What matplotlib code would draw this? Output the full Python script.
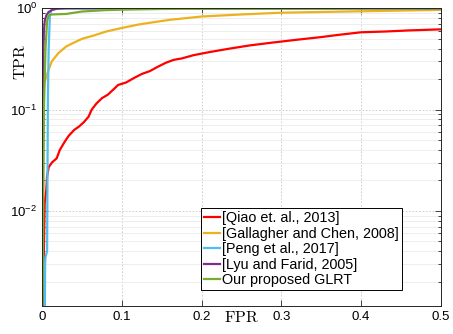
import matplotlib

matplotlib.use("Agg")
import matplotlib.pyplot as plt
from matplotlib.ticker import FixedLocator, FuncFormatter, LogLocator, NullFormatter

# ROC curves
labels = [
    "[Qiao et. al., 2013]",
    "[Gallagher and Chen, 2008]",
    "[Peng et al., 2017]",
    "[Lyu and Farid, 2005]",
    "Our proposed GLRT",
]
colors = ["#ff0000", "#edb120", "#4dbeee", "#7e2f8e", "#77ac30"]

qiao_fpr = [0, 0.003, 0.005, 0.006, 0.008, 0.012, 0.018, 0.022, 0.028, 0.033, 0.040, 0.046,
            0.052, 0.058, 0.062, 0.068, 0.075, 0.082, 0.090, 0.095, 0.105, 0.115,
            0.125, 0.135, 0.145, 0.155, 0.165, 0.175, 0.19, 0.21, 0.235, 0.26, 0.29,
            0.32, 0.35, 0.37, 0.40, 0.43, 0.46, 0.5]
qiao_tpr = [0.0005, 0.012, 0.016, 0.022, 0.027, 0.030, 0.033, 0.040, 0.048, 0.055, 0.063, 0.068,
            0.075, 0.085, 0.100, 0.115, 0.13, 0.14, 0.16, 0.175, 0.185, 0.205,
            0.225, 0.24, 0.265, 0.29, 0.31, 0.32, 0.345, 0.37, 0.40, 0.43, 0.46,
            0.49, 0.52, 0.545, 0.58, 0.59, 0.605, 0.62]

gallagher_fpr = [0, 0.001, 0.002, 0.004, 0.008, 0.012, 0.02, 0.03, 0.04, 0.05, 0.065,
                 0.08, 0.1, 0.12, 0.135, 0.16, 0.2, 0.25, 0.3, 0.35, 0.4, 0.45, 0.5]
gallagher_tpr = [0.0005, 0.1, 0.17, 0.2, 0.25, 0.30, 0.36, 0.42, 0.46, 0.50, 0.54,
                 0.59, 0.64, 0.69, 0.72, 0.77, 0.83, 0.87, 0.905, 0.92, 0.935, 0.95, 0.965]

peng_fpr = [0.003, 0.0035, 0.004, 0.006, 0.007, 0.008, 0.0095, 0.011, 0.013, 0.02, 0.5]
peng_tpr = [0.0005, 0.003, 0.0035, 0.004, 0.13, 0.4, 0.85, 0.95, 1.0, 1.0, 1.0]

lyu_fpr = [0, 0.001, 0.002, 0.003, 0.005, 0.008, 0.012, 0.018, 0.03, 0.5]
lyu_tpr = [0.0005, 0.3, 0.6, 0.75, 0.85, 0.92, 0.96, 0.99, 1.0, 1.0]

glrt_fpr = [0, 0.0012, 0.002, 0.003, 0.004, 0.006, 0.008, 0.012, 0.03, 0.05, 0.08,
            0.1, 0.15, 0.2, 0.5]
glrt_tpr = [0.0005, 0.01, 0.1, 0.2, 0.4, 0.75, 0.85, 0.87, 0.88, 0.93, 0.96,
            0.97, 0.985, 0.99, 1.0]

curves = [
    (qiao_fpr, qiao_tpr),
    (gallagher_fpr, gallagher_tpr),
    (peng_fpr, peng_tpr),
    (lyu_fpr, lyu_tpr),
    (glrt_fpr, glrt_tpr),
]
x_ticks = [0, 0.1, 0.2, 0.3, 0.4, 0.5]

plt.rcParams["font.family"] = ["Liberation Sans", "DejaVu Sans"]
plt.rcParams["mathtext.fontset"] = "custom"
plt.rcParams["mathtext.rm"] = "Liberation Sans"

fig = plt.figure(figsize=(4.53, 3.34), dpi=100)
ax = fig.add_axes([0.0934, 0.0838, 0.8796, 0.8913])

for (fpr, tpr), color, label in zip(curves, colors, labels):
    ax.plot(fpr, tpr, color=color, linewidth=1.6, label=label)

ax.set_yscale("log")
ax.set_xlim(0, 0.5)
ax.set_ylim(1.15e-3, 1.0)
ax.xaxis.set_major_locator(FixedLocator(x_ticks))
ax.xaxis.set_major_formatter(FuncFormatter(lambda v, p: f"{v:g}"))
ax.yaxis.set_major_locator(LogLocator(base=10, numticks=10))
ax.yaxis.set_minor_locator(LogLocator(base=10, subs=range(2, 10), numticks=20))
ax.yaxis.set_minor_formatter(NullFormatter())

ax.grid(True, which="major", color="#c8c8c8", linestyle=(0, (2, 2)), linewidth=0.6)
ax.grid(True, which="minor", axis="y", color="#ebebeb", linestyle="-", linewidth=0.6)
ax.set_axisbelow(True)

ax.tick_params(which="both", direction="in", top=True, right=True, labelsize=9.5,
               color="#262626", width=0.6)
ax.tick_params(which="major", length=4)
ax.tick_params(which="minor", length=2.2)
for spine in ax.spines.values():
    spine.set_linewidth(0.7)
    spine.set_color("#262626")

fig.text(0.534, 0.048, r"$\mathrm{FPR}$", math_fontfamily="cm", fontsize=11.5,
         ha="center", va="center")
fig.text(0.046, 0.815, r"$\mathrm{TPR}$", math_fontfamily="cm", fontsize=11.5,
         ha="center", va="center", rotation=90)

leg = ax.legend(loc="lower right", bbox_to_anchor=(0.903, 0.054), fontsize=10.4,
                handlelength=1.15, handletextpad=0.15, borderpad=0.2,
                labelspacing=0.1, borderaxespad=0, fancybox=False,
                framealpha=1, edgecolor="black")
leg.get_frame().set_linewidth(0.7)

fig.savefig("out.png", dpi=100)
plt.close(fig)
